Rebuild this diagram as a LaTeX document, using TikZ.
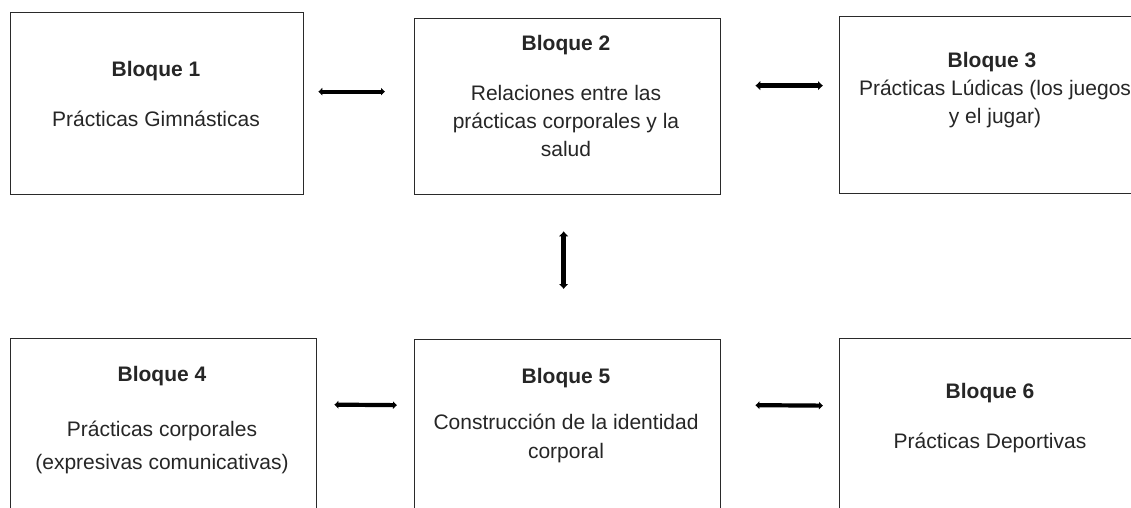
\documentclass[tikz,border=0pt]{standalone}
\usepackage{fontspec}
\setmainfont{Liberation Sans}
\usetikzlibrary{arrows.meta}
\definecolor{boxline}{HTML}{2A2A2A}
\definecolor{txt}{HTML}{262626}
\tikzset{
  blockbox/.style={draw=boxline, line width=1.3pt, rectangle, inner sep=0pt, anchor=north west},
  head/.style={font=\fontsize{21}{25}\selectfont\bfseries, text=txt, inner sep=0pt},
  body/.style={font=\fontsize{21}{28}\selectfont, text=txt, align=center, inner sep=0pt},
  conn/.style={line width=4.2pt, {Latex[length=4pt,width=8.5pt]}-{Latex[length=4pt,width=8.5pt]}},
  connbig/.style={line width=5pt, {Latex[length=5pt,width=10pt]}-{Latex[length=5pt,width=10pt]}}
}
\begin{document}
\begin{tikzpicture}[x=1pt,y=-1pt]
\useasboundingbox[fill=white] (0,0) rectangle (1131,508);
% boxes
\node[blockbox, minimum width=293pt, minimum height=182pt] (b1) at (10,12) {};
\node[blockbox, minimum width=306pt, minimum height=176pt] (b2) at (414,18) {};
\node[blockbox, minimum width=311pt, minimum height=177pt] (b3) at (839,16) {};
\node[blockbox, minimum width=306pt, minimum height=202pt] (b4) at (10,338) {};
\node[blockbox, minimum width=306pt, minimum height=201pt] (b5) at (414,339) {};
\node[blockbox, minimum width=311pt, minimum height=202pt] (b6) at (839,338) {};
% texts
\node[head] (h1) at (156,71) {Bloque 1};
\node[body] (t1) at (156,119) {Prácticas Gimnásticas};
\node[head] (h2) at (566,45) {Bloque 2};
\node[body] (t2) at (566,121) {Relaciones entre las\\prácticas corporales y la\\salud};
\node[head] (h3) at (992,62) {Bloque 3};
\node[body] (t3) at (995,104) {Prácticas Lúdicas (los juegos\\y el jugar)};
\node[head] (h4) at (162,376) {Bloque 4};
\node[body, font=\fontsize{21}{33}\selectfont] (t4) at (162,447) {Prácticas corporales\\(expresivas comunicativas)};
\node[head] (h5) at (566,378) {Bloque 5};
\node[body, font=\fontsize{21}{29}\selectfont] (t5) at (566,438) {Construcción de la identidad\\corporal};
\node[head] (h6) at (990,393) {Bloque 6};
\node[body] (t6) at (990,443) {Prácticas Deportivas};
% connectors
\draw[conn] ([shift={(14,-12)}]b1.east) -- ([shift={(-29,-15)}]b2.west);
\draw[connbig] ([shift={(34,-21)}]b2.east) -- ([shift={(-16,-19.5)}]b3.west);
\draw[connbig] ([shift={(-4,36)}]b2.south) -- ([shift={(-4,-50)}]b5.north);
\draw[conn] ([shift={(17,-35)}]b4.east) -- ([shift={(-17,-35)}]b5.west);
\draw[conn] ([shift={(34,-35)}]b5.east) -- ([shift={(-16,-34)}]b6.west);
\end{tikzpicture}
\end{document}
